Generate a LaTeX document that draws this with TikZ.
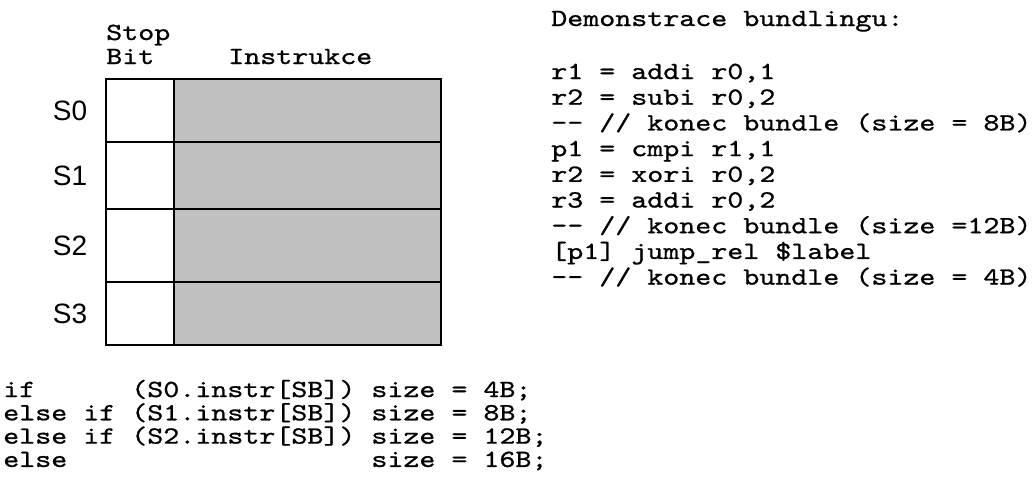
\documentclass[tikz,border=0pt]{standalone}
\usepackage{fontspec}
\newfontfamily\slotfont{Liberation Sans}
\newfontfamily\monowide{lmmono10-regular.otf}[FakeStretch=1.236, FakeBold=0.9]
\newcommand\codetext{\monowide\fontsize{18.5pt}{24pt}\selectfont}
\definecolor{instrgray}{HTML}{C0C0C0}
\tikzset{
  code/.style={anchor=base west, inner sep=0pt, font=\codetext},
  slot/.style={anchor=center, inner sep=0pt, font=\slotfont\fontsize{21pt}{25pt}\selectfont},
  cellline/.style={draw=black, line width=1.4pt},
  sbcell/.style={cellline, fill=white},
  incell/.style={cellline, fill=instrgray},
}
\begin{document}
\begin{tikzpicture}[x=0.75pt,y=-0.75pt]
\useasboundingbox (0,0) rectangle (1034,476);

% column headings
\node[code] (stop)  at (106,40) {Stop};
\node[code] (bit)   at (106,64) {Bit};
\node[code] (instr) at (228,64) {Instrukce};

% bundle slots: stop bit + instruction word
\foreach \i/\top/\bot in {0/79/142, 1/142/209, 2/209/282, 3/282/345} {
  \filldraw[sbcell] (106,\top) rectangle (174,\bot);
  \filldraw[incell] (174,\top) rectangle (441,\bot);
  \node[slot] (s\i) at (70,{(\top+\bot)/2}) {S\i};
}

% example program
\node[code] (demo) at (551,26)    {Demonstrace bundlingu:};
\node[code] (l1)   at (551,79)    {r1 = addi r0,1};
\node[code] (l2)   at (551,104.7) {r2 = subi r0,2};
\node[code] (l3)   at (551,130.4) {-{}- // konec bundle (size = 8B)};
\node[code] (l4)   at (551,156.1) {p1 = cmpi r1,1};
\node[code] (l5)   at (551,181.8) {r2 = xori r0,2};
\node[code] (l6)   at (551,207.5) {r3 = addi r0,2};
\node[code] (l7)   at (551,233.2) {-{}- // konec bundle (size =12B)};
\node[code] (l8)   at (551,258.9) {[p1] jump\_rel \$label};
\node[code] (l9)   at (551,284.6) {-{}- // konec bundle (size = 4B)};

% bundle size decoding
\node[code] (c1) at (3,397)   {if~~~~~~(S0.instr[SB])~size~=~4B;};
\node[code] (c2) at (3,420.3) {else~if~(S1.instr[SB])~size~=~8B;};
\node[code] (c3) at (3,443.6) {else~if~(S2.instr[SB])~size~=~12B;};
\node[code] (c4) at (3,466.9) {else~~~~~~~~~~~~~~~~~~~size~=~16B;};
\end{tikzpicture}
\end{document}
